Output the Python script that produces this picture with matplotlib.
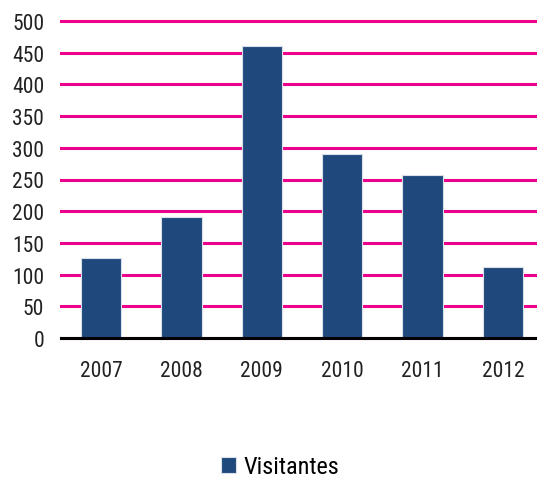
import matplotlib.pyplot as plt
from matplotlib import font_manager

years = ['2007', '2008', '2009', '2010', '2011', '2012']
visitantes = [126, 191, 460, 290, 257, 112]

names = {f.name for f in font_manager.fontManager.ttflist}
prefs = ['Liberation Sans Narrow', 'Arial Narrow', 'Roboto Condensed', 'Archivo Narrow', 'DejaVu Sans']
fam = next(n for n in prefs if n in names or n == 'DejaVu Sans')
plt.rcParams['font.family'] = [fam, 'DejaVu Sans']

fig = plt.figure(figsize=(5.37, 4.81), dpi=100)
ax = fig.add_axes([61/537, 142/481, 482/537, 317/481])

x = range(len(years))
ax.bar(x, visitantes, width=0.5, color='#1F497D', edgecolor='#D9DEE8', linewidth=0.8,
       zorder=3, label='Visitantes')
ax.set_xlim(-0.5, len(years) - 0.5)
ax.set_ylim(0, 500)
ax.set_yticks(range(0, 501, 50))
ax.set_xticks(list(x))
ax.set_xticklabels(years)
ax.yaxis.grid(True, color='#EC008C', linewidth=2.2, zorder=0)
for gl in ax.get_ygridlines():
    gl.set_clip_on(False)
ax.set_axisbelow(True)
for s in ['top', 'right', 'left']:
    ax.spines[s].set_visible(False)
ax.spines['bottom'].set_linewidth(2.2)
ax.spines['bottom'].set_zorder(4)
ax.tick_params(axis='both', length=0, labelsize=15.5, colors='#222222')
ax.tick_params(axis='x', pad=16)
ax.tick_params(axis='y', pad=12)

fig.legend(loc='center', bbox_to_anchor=(280/537, 1 - 468/481), frameon=False,
           fontsize=17.5, handlelength=0.6, handleheight=0.6, handletextpad=0.3)

fig.savefig('out.png', dpi=100)
